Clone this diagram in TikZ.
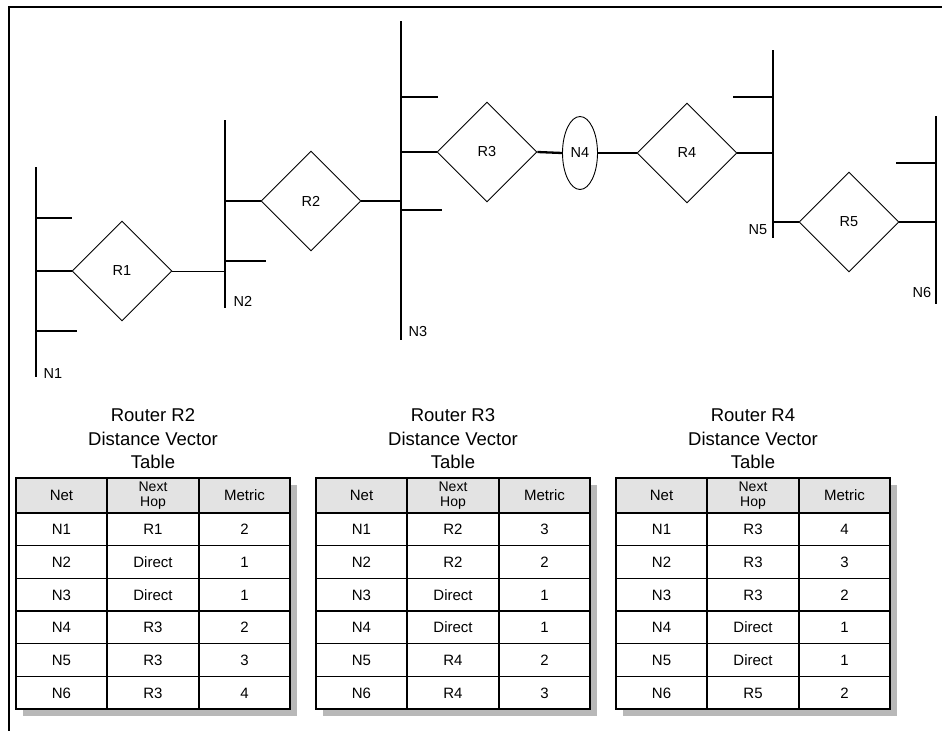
\documentclass[tikz,border=0pt]{standalone}
\usepackage{fontspec}
\setmainfont{Liberation Sans}
\usetikzlibrary{shapes.geometric}
\definecolor{headgray}{HTML}{E3E3E3}
\definecolor{shadowgray}{HTML}{B8B8B8}
\tikzset{
  bus/.style={line width=2.3pt},
  thinlink/.style={line width=0.9pt},
  router/.style={draw, diamond, line width=0.9pt, minimum width=100pt, minimum height=100pt, inner sep=0pt, font=\fontsize{14.5}{16}\selectfont},
  netlabel/.style={font=\fontsize{14.5}{16}\selectfont, inner sep=0pt},
  cell/.style={font=\fontsize{15}{16}\selectfont, inner sep=0pt, text height=10.8pt, text depth=0pt},
  headcell/.style={font=\fontsize{15}{16}\selectfont, inner sep=0pt, text height=10.8pt, text depth=0pt},
  hopcell/.style={font=\fontsize{14}{15.5}\selectfont, inner sep=0pt, align=center},
  ttitle/.style={font=\fontsize{18.5}{23.5}\selectfont, inner sep=0pt, align=center},
  tableline/.style={line width=1.1pt},
  frameline/.style={line width=1.3pt}
}
\newcommand\dvtable[4]{%
  \begin{scope}[shift={(#1,0)}]
    \fill[shadowgray] (7,485) rectangle (281,716);
    \fill[white] (0,478) rectangle (274,709);
    \fill[headgray] (0,478) rectangle (274,513);
    \node[ttitle] (#2-title) at (137,439) {Router #3\\Distance Vector\\Table};
    \node[headcell] (#2-h1) at (45.5,495.5) {Net};
    \node[hopcell] (#2-h2) at (137,495.5) {Next\\Hop};
    \node[headcell] (#2-h3) at (228.5,495.5) {Metric};
    \foreach \a/\b/\c [count=\i] in {#4} {
      \node[cell] (#2-\i-1) at (45.5,{513+32.667*(\i-0.5)}) {\a};
      \node[cell] (#2-\i-2) at (137,{513+32.667*(\i-0.5)}) {\b};
      \node[cell] (#2-\i-3) at (228.5,{513+32.667*(\i-0.5)}) {\c};
      \draw[tableline] (0,{513+32.667*\i}) -- (274,{513+32.667*\i});
    }
    \draw[tableline] (0,513) -- (274,513);
    \draw[tableline] (91,478) -- (91,709);
    \draw[tableline] (183,478) -- (183,709);
    \draw[tableline] (0,478) rectangle (274,709);
  \end{scope}%
}
\begin{document}
\begin{tikzpicture}[x=1pt,y=-1pt]
\useasboundingbox (0,0) rectangle (942,731);
% frame
\coordinate (fTL) at (9,7);
\coordinate (fTR) at (942,7);
\coordinate (fBL) at (9,731);
\draw[frameline] (fTR) -- (fTL) -- (fBL);

% buses
\coordinate (N1t) at (36,167); \coordinate (N1b) at (36,377);
\coordinate (N2t) at (225,120); \coordinate (N2b) at (225,308);
\coordinate (N3t) at (401,21);  \coordinate (N3b) at (401,340);
\coordinate (N5t) at (773,50);  \coordinate (N5b) at (773,238);
\coordinate (N6t) at (936,116); \coordinate (N6b) at (936,304);
\draw[bus] (N1t) -- (N1b);
\draw[bus] (N2t) -- (N2b);
\draw[bus] (N3t) -- (N3b);
\draw[bus] (N5t) -- (N5b);
\draw[bus] (N6t) -- (N6b);

% free stubs
\draw[bus] (36,218) -- (72,218);
\draw[bus] (36,331) -- (77,331);
\draw[bus] (225,261) -- (266,261);
\draw[bus] (401,97) -- (438,97);
\draw[bus] (401,210) -- (442,210);
\draw[bus] (773,97) -- (733,97);
\draw[bus] (936,163) -- (896,163);

% routers
\node[router] (R1) at (122,271) {R1};
\node[router] (R2) at (311,201) {R2};
\node[router] (R3) at (487,152) {R3};
\node[router] (R4) at (687,153) {R4};
\node[router] (R5) at (849,222) {R5};
\node[draw, ellipse, line width=0.9pt, minimum width=35pt, minimum height=73pt, inner sep=0pt, font=\fontsize{14.5}{16}\selectfont] (N4) at (580,153) {N4};

% connectors
\draw[bus] (R1.west) -- (R1.west -| N1t);
\draw[thinlink] (R1.east) -- (R1.east -| N2t);
\draw[bus] (R2.west) -- (R2.west -| N2t);
\draw[bus] (R2.east) -- (R2.east -| N3t);
\draw[bus] (R3.west) -- (R3.west -| N3t);
\draw[bus] (R3.east) -- (N4.west);
\draw[bus] (N4.east) -- (R4.west);
\draw[bus] (R4.east) -- (R4.east -| N5t);
\draw[bus] (R5.west) -- (R5.west -| N5t);
\draw[bus] (R5.east) -- (R5.east -| N6t);

% net labels
\node[netlabel] (lN1) at (53,374) {N1};
\node[netlabel] (lN2) at (243,301) {N2};
\node[netlabel] (lN3) at (418,332) {N3};
\node[netlabel] (lN5) at (758,230) {N5};
\node[netlabel] (lN6) at (922,293) {N6};

% tables
\dvtable{16}{tA}{R2}{N1/R1/2,N2/Direct/1,N3/Direct/1,N4/R3/2,N5/R3/3,N6/R3/4}
\dvtable{316}{tB}{R3}{N1/R2/3,N2/R2/2,N3/Direct/1,N4/Direct/1,N5/R4/2,N6/R4/3}
\dvtable{616}{tC}{R4}{N1/R3/4,N2/R3/3,N3/R3/2,N4/Direct/1,N5/Direct/1,N6/R5/2}
\end{tikzpicture}
\end{document}
